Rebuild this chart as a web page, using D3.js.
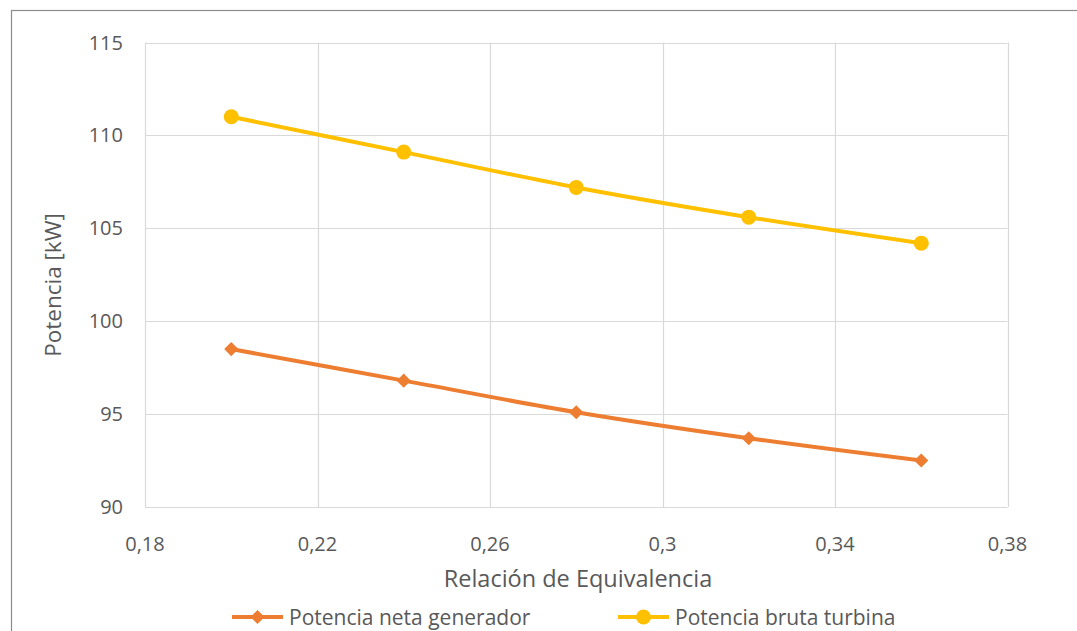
<!DOCTYPE html>
<html>
<head>
<meta charset="utf-8">
<script src="https://cdn.jsdelivr.net/npm/d3@7"></script>
<style>
  html, body { margin: 0; padding: 0; background: #fff; }
  svg { display: block; font-family: "Open Sans", Lato, sans-serif; }
</style>
</head>
<body>
<svg id="chart" width="1077" height="631"></svg>
<script>
// Equivalence ratio values (x axis)
const ratios = [0.20, 0.24, 0.28, 0.32, 0.36];
// Net generator power [kW]
const netaGenerador = [98.5, 96.8, 95.1, 93.7, 92.5];
// Gross turbine power [kW]
const brutaTurbina = [111.0, 109.1, 107.2, 105.6, 104.2];
// Axis ticks
const xTicks = [0.18, 0.22, 0.26, 0.30, 0.34, 0.38];
const yTicks = [90, 95, 100, 105, 110, 115];
const seriesNames = ["Potencia neta generador", "Potencia bruta turbina"];

const svg = d3.select("#chart");
const textColor = "#595959";
const gridColor = "#d9d9d9";
const colors = ["#ED7D31", "#FFC000"];

// outer frame
svg.append("rect")
  .attr("x", 11.5).attr("y", 10.5)
  .attr("width", 1100).attr("height", 700)
  .attr("fill", "none").attr("stroke", "#8c8c8c").attr("stroke-width", 1.2);

const plot = { left: 145, top: 42.5, right: 1007.5, bottom: 507 };
const x = d3.scaleLinear().domain([0.18, 0.38]).range([plot.left, plot.right]);
const y = d3.scaleLinear().domain([90, 115]).range([plot.bottom, plot.top]);

// gridlines
const g = svg.append("g");
g.selectAll("line.h").data(yTicks).join("line")
  .attr("x1", plot.left).attr("x2", plot.right)
  .attr("y1", d => Math.round(y(d)) + 0.5).attr("y2", d => Math.round(y(d)) + 0.5)
  .attr("stroke", gridColor).attr("stroke-width", 1.2);
g.selectAll("line.v").data(xTicks).join("line")
  .attr("y1", plot.top).attr("y2", plot.bottom)
  .attr("x1", d => Math.round(x(d)) + 0.5).attr("x2", d => Math.round(x(d)) + 0.5)
  .attr("stroke", gridColor).attr("stroke-width", 1.2);

const fmt = v => String(+v.toFixed(2)).replace(".", ",");

// y tick labels
svg.append("g").selectAll("text").data(yTicks).join("text")
  .attr("x", 123).attr("y", d => y(d) + 7)
  .attr("text-anchor", "end")
  .attr("font-size", 20).attr("fill", textColor)
  .text(d => d);

// x tick labels
svg.append("g").selectAll("text").data(xTicks).join("text")
  .attr("x", d => x(d)).attr("y", 551)
  .attr("text-anchor", "middle")
  .attr("font-size", 20).attr("fill", textColor)
  .text(d => fmt(d));

// axis titles
svg.append("text")
  .attr("x", 578).attr("y", 587)
  .attr("text-anchor", "middle").attr("font-size", 23.5).attr("fill", textColor)
  .text("Relación de Equivalencia");
svg.append("text")
  .attr("transform", "translate(61,285) rotate(-90)")
  .attr("text-anchor", "middle").attr("font-size", 22.5).attr("fill", textColor)
  .text("Potencia [kW]");

const line = d3.line()
  .x((d, i) => x(ratios[i]))
  .y(d => y(d))
  .curve(d3.curveCatmullRom.alpha(0.5));

const diamondPath = d3.symbol().type(d3.symbolSquare).size(100);

// net generator series
svg.append("path").datum(netaGenerador)
  .attr("d", line).attr("fill", "none")
  .attr("stroke", colors[0]).attr("stroke-width", 4).attr("stroke-linejoin", "round");
svg.append("g").selectAll("path").data(netaGenerador).join("path")
  .attr("transform", (d, i) => `translate(${x(ratios[i])},${y(d)}) rotate(45)`)
  .attr("d", diamondPath)
  .attr("fill", colors[0]);

// gross turbine series
svg.append("path").datum(brutaTurbina)
  .attr("d", line).attr("fill", "none")
  .attr("stroke", colors[1]).attr("stroke-width", 4).attr("stroke-linejoin", "round");
svg.append("g").selectAll("circle").data(brutaTurbina).join("circle")
  .attr("cx", (d, i) => x(ratios[i])).attr("cy", d => y(d))
  .attr("r", 7.5).attr("fill", colors[1]);

// legend
const legendItems = [
  { name: seriesNames[0], color: colors[0], x0: 232, marker: "diamond" },
  { name: seriesNames[1], color: colors[1], x0: 618, marker: "circle" }
];
const ly = 617;
const lg = svg.append("g");
legendItems.forEach(it => {
  lg.append("line")
    .attr("x1", it.x0).attr("x2", it.x0 + 51)
    .attr("y1", ly).attr("y2", ly)
    .attr("stroke", it.color).attr("stroke-width", 4);
  if (it.marker === "diamond") {
    lg.append("path")
      .attr("transform", `translate(${it.x0 + 25.5},${ly}) rotate(45)`)
      .attr("d", diamondPath)
      .attr("fill", it.color);
  } else {
    lg.append("circle")
      .attr("cx", it.x0 + 25.5).attr("cy", ly).attr("r", 7.5)
      .attr("fill", it.color);
  }
  lg.append("text")
    .attr("x", it.x0 + 57).attr("y", ly + 8)
    .attr("font-size", 21).attr("fill", textColor)
    .text(it.name);
});
</script>
</body>
</html>
